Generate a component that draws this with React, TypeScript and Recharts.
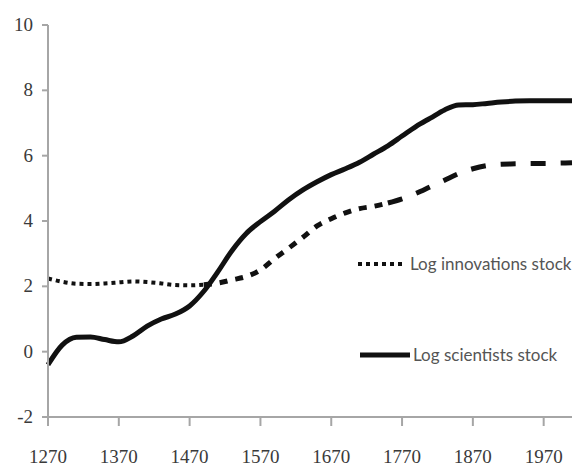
import { LineChart, Line, XAxis, YAxis, Legend } from 'recharts';

if (typeof document !== 'undefined') document.body.style.margin = '0';

const years = [
  1270, 1290, 1310, 1330, 1350, 1370, 1390, 1410, 1430, 1450, 1470, 1490, 1510,
  1530, 1550, 1570, 1590, 1610, 1630, 1650, 1670, 1690, 1710, 1730, 1750, 1770,
  1790, 1810, 1830, 1850, 1870, 1890, 1910, 1930, 1950, 1970, 1990, 2010,
];

const scientists = [
  -0.4, 0.2, 0.44, 0.45, 0.37, 0.3, 0.48, 0.78, 1.0, 1.15, 1.4, 1.85, 2.45,
  3.1, 3.62, 3.98, 4.3, 4.65, 4.95, 5.2, 5.42, 5.6, 5.8, 6.05, 6.3, 6.6,
  6.9, 7.15, 7.4, 7.55, 7.56, 7.6, 7.64, 7.67, 7.68, 7.68, 7.68, 7.68,
];

const innovations = [
  2.24, 2.14, 2.08, 2.07, 2.09, 2.12, 2.15, 2.13, 2.09, 2.04, 2.03, 2.05, 2.1,
  2.2, 2.3, 2.5, 2.85, 3.17, 3.5, 3.85, 4.07, 4.25, 4.38, 4.45, 4.55, 4.68,
  4.85, 5.05, 5.25, 5.45, 5.6, 5.7, 5.74, 5.75, 5.76, 5.76, 5.77, 5.78,
];

const xTicks = [1270, 1370, 1470, 1570, 1670, 1770, 1870, 1970];
const yTicks = [-2, 0, 2, 4, 6, 8, 10];
const seriesNames = ['Log innovations stock', 'Log scientists stock'];

// the innovations line goes from dots to longer dashes over time
const data = years.map((year, i) => ({
  year,
  scientists: scientists[i],
  innovDot: year <= 1490 ? innovations[i] : null,
  innovMid: year >= 1490 && year <= 1750 ? innovations[i] : null,
  innovLong: year >= 1750 ? innovations[i] : null,
}));

const AXIS = '#a6a6a6';
const LABEL = '#3a3a3a';
const SERIF = "'Liberation Serif', 'Times New Roman', serif";
const SANS = "Lato, Roboto, sans-serif";

function XTick({ x, y, payload }: any) {
  return (
    <text x={x} y={y + 35} textAnchor="middle" fontSize={19} fill={LABEL} style={{ fontFamily: SERIF }}>
      {payload.value}
    </text>
  );
}

function YTick({ x, y, payload }: any) {
  return (
    <text x={x - 7} y={y + 6} textAnchor="end" fontSize={19} fill={LABEL} style={{ fontFamily: SERIF }}>
      {payload.value}
    </text>
  );
}

function ChartLegend() {
  return (
    <svg width={226} height={140} style={{ overflow: 'visible' }}>
      <line x1={8} x2={52} y1={24} y2={24} stroke="#111" strokeWidth={4} strokeDasharray="4 4" />
      <text x={60} y={30} fontSize={17} fill="#555" style={{ fontFamily: SANS }}>
        {seriesNames[0]}
      </text>
      <line x1={10} x2={60} y1={115} y2={115} stroke="#111" strokeWidth={5} />
      <text x={63} y={121} fontSize={17} fill="#555" style={{ fontFamily: SANS }}>
        {seriesNames[1]}
      </text>
    </svg>
  );
}

export default function App() {
  return (
    <div style={{ width: 576, height: 467, background: '#fff' }}>
      <LineChart width={576} height={467} data={data} margin={{ top: 25, right: 4, bottom: 0, left: 0 }}>
        <XAxis
          dataKey="year"
          type="number"
          domain={[1270, 2010]}
          ticks={xTicks}
          tick={<XTick />}
          tickSize={9}
          height={50}
          axisLine={{ stroke: AXIS, strokeWidth: 2 }}
          tickLine={{ stroke: AXIS, strokeWidth: 2 }}
        />
        <YAxis
          type="number"
          domain={[-2, 10]}
          ticks={yTicks}
          tick={<YTick />}
          tickSize={6}
          width={48}
          axisLine={{ stroke: AXIS, strokeWidth: 2 }}
          tickLine={{ stroke: AXIS, strokeWidth: 2 }}
        />
        <Legend
          verticalAlign="middle"
          align="center"
          content={<ChartLegend />}
          wrapperStyle={{ position: 'absolute', left: 350, top: 240, width: 226, height: 140 }}
        />
        <Line dataKey="innovDot" name={seriesNames[0]} type="monotone" stroke="#111" strokeWidth={4} strokeDasharray="4 4" dot={false} connectNulls={false} isAnimationActive={false} />
        <Line dataKey="innovMid" type="monotone" stroke="#111" strokeWidth={5} strokeDasharray="8 8" dot={false} connectNulls={false} isAnimationActive={false} />
        <Line dataKey="innovLong" type="monotone" stroke="#111" strokeWidth={5} strokeDasharray="15 15" dot={false} connectNulls={false} isAnimationActive={false} />
        <Line dataKey="scientists" name={seriesNames[1]} type="monotone" stroke="#111" strokeWidth={5} dot={false} isAnimationActive={false} />
      </LineChart>
    </div>
  );
}
